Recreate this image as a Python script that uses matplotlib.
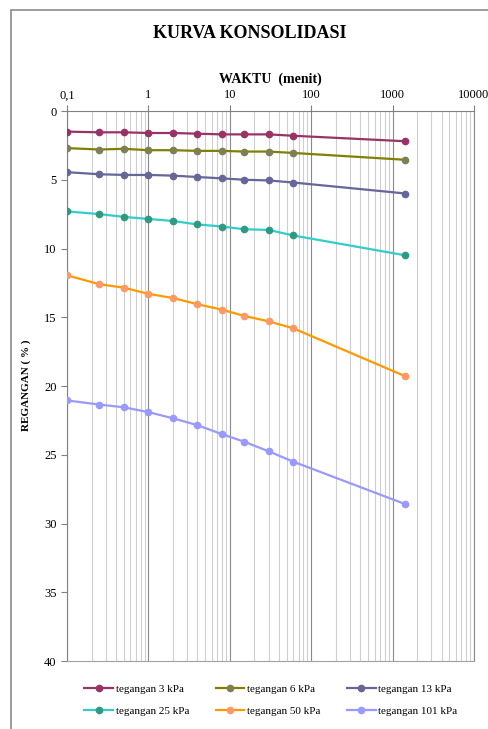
import matplotlib.pyplot as plt
from matplotlib.ticker import FixedLocator, LogLocator, NullFormatter, FixedFormatter
from matplotlib.patches import Rectangle

plt.rcParams['font.family'] = ['Liberation Serif', 'DejaVu Serif']

# time readings (minutes)
waktu = [0.1, 0.25, 0.5, 1, 2, 4, 8, 15, 30, 60, 1440]

# strain (%) for each load step
regangan_3 = [1.5, 1.55, 1.55, 1.6, 1.6, 1.65, 1.7, 1.7, 1.7, 1.8, 2.2]
regangan_6 = [2.7, 2.8, 2.75, 2.85, 2.85, 2.9, 2.9, 2.95, 2.95, 3.05, 3.55]
regangan_13 = [4.45, 4.6, 4.65, 4.65, 4.7, 4.8, 4.9, 5.0, 5.05, 5.2, 6.0]
regangan_25 = [7.3, 7.5, 7.7, 7.85, 8.0, 8.25, 8.4, 8.6, 8.65, 9.05, 10.5]
regangan_50 = [11.95, 12.6, 12.85, 13.3, 13.6, 14.05, 14.45, 14.9, 15.3, 15.8, 19.3]
regangan_101 = [21.05, 21.35, 21.55, 21.9, 22.35, 22.85, 23.5, 24.05, 24.75, 25.5, 28.6]

labels = ['tegangan 3 kPa', 'tegangan 6 kPa', 'tegangan 13 kPa',
          'tegangan 25 kPa', 'tegangan 50 kPa', 'tegangan 101 kPa']
series = [regangan_3, regangan_6, regangan_13, regangan_25, regangan_50, regangan_101]
line_colors = ['#993366', '#808000', '#666699', '#33CCCC', '#FF9900', '#9999FF']
marker_colors = ['#993366', '#7f7f55', '#666699', '#2e9a80', '#FF9966', '#9999FF']

x_ticks = [0.1, 1, 10, 100, 1000, 10000]
x_ticklabels = ['0,1', '1', '10', '100', '1000', '10000']
y_ticks = [0, 5, 10, 15, 20, 25, 30, 35, 40]

fig = plt.figure(figsize=(4.88, 7.29), dpi=100)
ax = fig.add_axes([67 / 488, 1 - 661 / 729, (474 - 67) / 488, (661 - 111) / 729])

# chart area border
fig.patches.append(Rectangle((11 / 488, -0.1), 1.2, 1 - 10 / 729 + 0.1,
                             transform=fig.transFigure, fill=False,
                             edgecolor='#8c8c8c', lw=1.2))

handles = []
for y, lc, mc, lab in zip(series, line_colors, marker_colors, labels):
    h, = ax.plot(waktu, y, color=lc, lw=1.6, marker='o', markersize=4.5,
                 markerfacecolor=mc, markeredgecolor=mc, label=lab, zorder=3)
    handles.append(h)

ax.set_xscale('log')
ax.set_xlim(0.1, 10000)
ax.set_ylim(40, 0)

ax.xaxis.set_major_locator(FixedLocator(x_ticks))
ax.xaxis.set_major_formatter(FixedFormatter(x_ticklabels))
ax.xaxis.set_minor_locator(LogLocator(base=10, subs=range(2, 10)))
ax.xaxis.set_minor_formatter(NullFormatter())
ax.xaxis.tick_top()
ax.xaxis.set_label_position('top')
ax.tick_params(axis='x', which='major', direction='out', length=4, color='#808080',
               labelsize=9, pad=3)
ax.tick_params(axis='x', which='minor', length=0)
ax.grid(True, which='major', axis='x', color='#8a8a8a', lw=0.8)
ax.grid(True, which='minor', axis='x', color='#cfcfcf', lw=0.8)

ax.set_yticks(y_ticks)
ax.tick_params(axis='y', direction='out', length=4, color='#808080', labelsize=9)

for s in ['top', 'left']:
    ax.spines[s].set_color('#808080')
ax.spines['bottom'].set_color('#a0a0a0')
ax.spines['right'].set_color('#8a8a8a')
for s in ax.spines.values():
    s.set_linewidth(0.8)

ax.set_xlabel('WAKTU  (menit)', fontsize=10, fontweight='bold', labelpad=5)
fig.text(26 / 488, 1 - 385 / 729, 'REGANGAN ( % )', rotation=90, fontsize=8,
         fontweight='bold', ha='center', va='center')
fig.text(250 / 488, 1 - 33 / 729, 'KURVA KONSOLIDASI', fontsize=13,
         fontweight='bold', ha='center', va='center')

# row-major order in a 3-column legend
order = [0, 3, 1, 4, 2, 5]
fig.legend([handles[i] for i in order], [labels[i] for i in order],
           loc='upper left', bbox_to_anchor=(80 / 488, 1 - 680 / 729), ncol=3,
           frameon=False, fontsize=8, handlelength=2.6, handletextpad=0.2,
           columnspacing=2.4, labelspacing=1.1, borderaxespad=0)

fig.savefig('out.png', dpi=100)
